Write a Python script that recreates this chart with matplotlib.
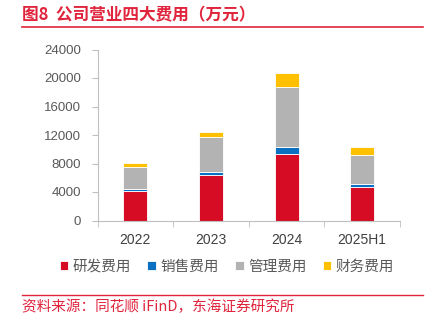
import matplotlib
matplotlib.use("Agg")
import matplotlib.pyplot as plt
import numpy as np

plt.rcParams['font.family'] = ['Noto Sans CJK SC', 'DejaVu Sans']

categories = ["2022", "2023", "2024", "2025H1"]
rd = [4100, 6350, 9300, 4650]
sales = [350, 500, 1000, 450]
mgmt = [3000, 4900, 8400, 4150]
fin = [600, 650, 2000, 1050]
series_names = ["研发费用", "销售费用", "管理费用", "财务费用"]
colors = ["#D50C24", "#0B6FC2", "#B3B3B3", "#FFC000"]
yticks = [0, 4000, 8000, 12000, 16000, 20000, 24000]

fig = plt.figure(figsize=(4.34, 3.23), dpi=100)
W, H = 434, 323
ax = fig.add_axes([97.5 / W, 1 - 220.5 / H, (400 - 97.5) / W, (220.5 - 49.5) / H])

x = np.arange(len(categories))
bottom = np.zeros(len(categories))
for vals, name, c in zip([rd, sales, mgmt, fin], series_names, colors):
    ax.bar(x, vals, width=0.317, bottom=bottom, color=c, label=name,
           edgecolor="white", linewidth=0.6)
    bottom += np.array(vals)

ax.set_xlim(-0.5, len(categories) - 0.5)
ax.set_ylim(0, 24000)
ax.set_yticks(yticks)
ax.set_yticklabels([str(v) for v in yticks], fontfamily="Liberation Sans")
ax.set_xticks(x)
ax.set_xticklabels(categories, fontfamily="Liberation Sans")
ax.set_xticks(np.arange(-0.5, len(categories)), minor=True)
ax.tick_params(axis="x", which="major", length=0, pad=9, labelsize=10, labelcolor="#404040")
ax.tick_params(axis="x", which="minor", length=4, color="#BFBFBF", direction="out")
ax.tick_params(axis="y", length=4, color="#BFBFBF", labelsize=9.5, labelcolor="#595959", pad=8)
for s in ["top", "right"]:
    ax.spines[s].set_visible(False)
for s in ["left", "bottom"]:
    ax.spines[s].set_color("#BFBFBF")
    ax.spines[s].set_linewidth(0.8)

handles, labels = ax.get_legend_handles_labels()
fig.legend(handles, labels, loc="center", bbox_to_anchor=(227 / W, 1 - 267 / H), ncol=4,
           frameon=False, fontsize=10.5, handlelength=0.6, handleheight=0.6,
           handletextpad=0.3, columnspacing=1.1, labelcolor="#595959")

red = "#E0243C"
fig.text(22 / W, 1 - 15 / H, "图8  公司营业四大费用（万元）", color=red, fontsize=12,
         fontweight="bold", va="center", ha="left")
fig.add_artist(plt.Line2D([22 / W, 423 / W], [1 - 27 / H, 1 - 27 / H], color=red, linewidth=1.2))
fig.add_artist(plt.Line2D([22 / W, 423 / W], [1 - 294.5 / H, 1 - 294.5 / H], color=red, linewidth=1.0))
fig.text(22 / W, 1 - 307 / H, "资料来源：同花顺 iFinD，东海证券研究所", color=red, fontsize=10.5,
         va="center", ha="left")

fig.savefig("out.png", dpi=100)
